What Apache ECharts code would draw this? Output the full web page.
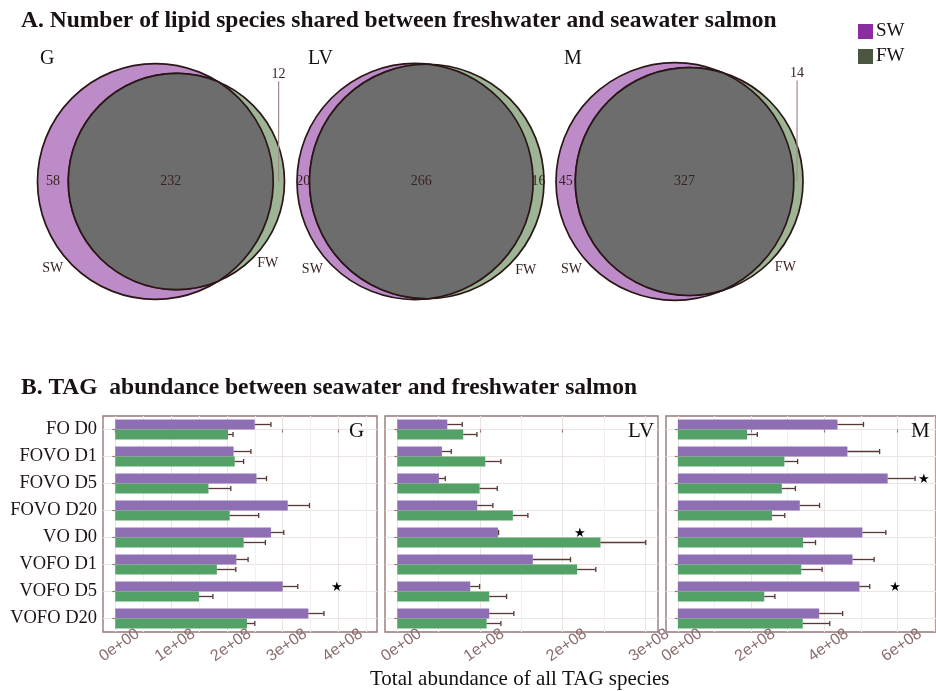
<!DOCTYPE html>
<html><head><meta charset="utf-8">
<script src="https://cdn.jsdelivr.net/npm/echarts@6/dist/echarts.min.js"></script>
<style>html,body{margin:0;padding:0;background:#fff}#c{width:936px;height:691px}</style>
</head><body><div id="c"></div>
<script>
// ---------- Venn data (panel A) ----------
const vennTissues = ['G', 'LV', 'M'];
const vennSwOnly = [58, 20, 45];
const vennShared = [232, 266, 327];
const vennFwOnly = [12, 16, 14];
const vennFwLeader = [true, false, true];

// ---------- TAG abundance data (panel B) ----------
const categories = ['FO D0', 'FOVO D1', 'FOVO D5', 'FOVO D20', 'VO D0', 'VOFO D1', 'VOFO D5', 'VOFO D20'];
const panelTissues = ['G', 'LV', 'M'];

const swMeanG  = [2.50e8, 2.12e8, 2.53e8, 3.09e8, 2.79e8, 2.17e8, 3.00e8, 3.46e8];
const swUpperG = [2.79e8, 2.43e8, 2.71e8, 3.48e8, 3.02e8, 2.38e8, 3.27e8, 3.74e8];
const fwMeanG  = [2.02e8, 2.14e8, 1.67e8, 2.05e8, 2.30e8, 1.82e8, 1.50e8, 2.36e8];
const fwUpperG = [2.11e8, 2.30e8, 2.07e8, 2.57e8, 2.69e8, 2.16e8, 1.75e8, 2.50e8];

const swMeanLV  = [0.605e8, 0.540e8, 0.504e8, 0.968e8, 1.218e8, 1.641e8, 0.883e8, 1.113e8];
const swUpperLV = [0.786e8, 0.653e8, 0.581e8, 1.157e8, 1.226e8, 2.097e8, 0.996e8, 1.411e8];
const fwMeanLV  = [0.798e8, 1.065e8, 0.996e8, 1.399e8, 2.460e8, 2.177e8, 1.113e8, 1.081e8];
const fwUpperLV = [0.964e8, 1.254e8, 1.210e8, 1.581e8, 3.008e8, 2.403e8, 1.323e8, 1.254e8];

const swMeanM  = [4.36e8, 4.63e8, 5.73e8, 3.33e8, 5.04e8, 4.77e8, 4.96e8, 3.86e8];
const swUpperM = [5.07e8, 5.51e8, 6.48e8, 3.87e8, 5.68e8, 5.36e8, 5.24e8, 4.50e8];
const fwMeanM  = [1.89e8, 2.91e8, 2.84e8, 2.57e8, 3.42e8, 3.37e8, 2.36e8, 3.41e8];
const fwUpperM = [2.17e8, 3.27e8, 3.21e8, 2.92e8, 3.76e8, 3.94e8, 2.65e8, 4.15e8];

const starsG  = [[3.97e8, 'VOFO D5']];
const starsLV = [[2.21e8, 'VO D0']];
const starsM  = [[6.72e8, 'FOVO D5'], [5.93e8, 'VOFO D5']];

const tickValuesG  = [0, 1e8, 2e8, 3e8, 4e8];
const tickLabelsG  = ['0e+00', '1e+08', '2e+08', '3e+08', '4e+08'];
const minorValuesG = [0.5e8, 1.5e8, 2.5e8, 3.5e8, 4.5e8];
const tickValuesLV  = [0, 1e8, 2e8, 3e8];
const tickLabelsLV  = ['0e+00', '1e+08', '2e+08', '3e+08'];
const minorValuesLV = [0.5e8, 1.5e8, 2.5e8];
const tickValuesM  = [0, 2e8, 4e8, 6e8];
const tickLabelsM  = ['0e+00', '2e+08', '4e+08', '6e+08'];
const minorValuesM = [1e8, 3e8, 5e8, 7e8];

const axisRangeG  = [-0.22e8, 4.69e8];
const axisRangeLV = [-0.149e8, 3.156e8];
const axisRangeM  = [-0.324e8, 7.05e8];

// ---------- styling / layout ----------
const SERIF = '"Liberation Serif","Times New Roman",serif';
const SANS = '"Liberation Sans",Arial,sans-serif';
const FRAME = '#967777';
const COL_SW_BAR = '#8e6fb3', COL_FW_BAR = '#53a167';
const COL_ERR = '#5a3838';

const panels = [
  {mean: [swMeanG, fwMeanG], upper: [swUpperG, fwUpperG], stars: starsG, ticks: tickValuesG, labels: tickLabelsG, minor: minorValuesG, range: axisRangeG, left: 103, width: 274},
  {mean: [swMeanLV, fwMeanLV], upper: [swUpperLV, fwUpperLV], stars: starsLV, ticks: tickValuesLV, labels: tickLabelsLV, minor: minorValuesLV, range: axisRangeLV, left: 385, width: 273},
  {mean: [swMeanM, fwMeanM], upper: [swUpperM, fwUpperM], stars: starsM, ticks: tickValuesM, labels: tickLabelsM, minor: minorValuesM, range: axisRangeM, left: 666, width: 273}
];
const panelTop = 416, panelHeight = 216;
const BAR_W = 10;

const grid = [], xAxis = [], yAxis = [], series = [];

panels.forEach((p, i) => {
  grid.push({left: p.left, top: panelTop, width: p.width, height: panelHeight, show: true,
    borderColor: FRAME, borderWidth: 1.4, backgroundColor: 'transparent'});
  // major x axis
  xAxis.push({type: 'value', gridIndex: i, min: p.range[0], max: p.range[1], position: 'bottom',
    axisLine: {show: false},
    axisTick: {show: true, length: 3, lineStyle: {color: FRAME, width: 1.2}, customValues: p.ticks},
    axisLabel: {show: true, rotate: 35, margin: 16, align: 'center', verticalAlign: 'middle',
      padding: [0, 0, 0, 10], color: '#8a6b6b', fontSize: 16, fontFamily: SANS,
      customValues: p.ticks,
      formatter: v => { const k = p.ticks.findIndex(t => Math.abs(t - v) < 1); return k >= 0 ? p.labels[k] : ''; }},
    splitLine: {show: true, lineStyle: {color: '#ece3e3', width: 1}}
  });
  // minor x axis (grid only)
  xAxis.push({type: 'value', gridIndex: i, min: p.range[0], max: p.range[1], position: 'top',
    axisLine: {show: false}, axisTick: {show: false, customValues: p.minor},
    axisLabel: {show: false, customValues: p.minor},
    splitLine: {show: true, lineStyle: {color: '#f5f0f0', width: 1}}
  });
  // category y axis
  yAxis.push({type: 'category', gridIndex: i, data: categories, inverse: true,
    axisLine: {show: false},
    axisTick: {show: true, alignWithLabel: true, length: 3, lineStyle: {color: FRAME, width: 1.2}},
    axisLabel: {show: i === 0, color: '#1f1414', fontSize: 18.5, fontFamily: SERIF, margin: 6},
    splitLine: {show: false}
  });
  // hidden value y axis for horizontal grid lines at category centres
  yAxis.push({type: 'value', gridIndex: i, min: -0.5, max: categories.length - 0.5, inverse: true, position: 'right',
    axisLine: {show: false}, axisTick: {show: false, customValues: categories.map((c, k) => k)},
    axisLabel: {show: false, customValues: categories.map((c, k) => k)},
    splitLine: {show: true, lineStyle: {color: '#ece3e3', width: 1}}
  });
  const xi = 2 * i, yi = 2 * i;
  ['SW', 'FW'].forEach((name, g) => {
    series.push({type: 'bar', name: name, xAxisIndex: xi, yAxisIndex: yi, data: p.mean[g],
      barWidth: BAR_W, barGap: '0%', itemStyle: {color: g === 0 ? COL_SW_BAR : COL_FW_BAR}, silent: true, z: 2});
  });
  ['SW', 'FW'].forEach((name, g) => {
    const off = (g === 0 ? -1 : 1) * BAR_W / 2;
    series.push({type: 'custom', name: name + ' err', xAxisIndex: xi, yAxisIndex: yi, z: 3, silent: true,
      data: categories.map((c, k) => [p.mean[g][k], k, p.upper[g][k]]),
      renderItem: (params, api) => {
        const p0 = api.coord([api.value(0), api.value(1)]);
        const p1 = api.coord([api.value(2), api.value(1)]);
        const y = p0[1] + off;
        const st = {stroke: COL_ERR, lineWidth: 1.3};
        return {type: 'group', children: [
          {type: 'line', shape: {x1: p0[0], y1: y, x2: p1[0], y2: y}, style: st},
          {type: 'line', shape: {x1: p1[0], y1: y - 2.6, x2: p1[0], y2: y + 2.6}, style: st}
        ]};
      }
    });
  });
  series.push({type: 'custom', name: 'stars', xAxisIndex: xi, yAxisIndex: yi, z: 4, silent: true,
    data: p.stars.map(s => [s[0], categories.indexOf(s[1])]),
    renderItem: (params, api) => {
      const c = api.coord([api.value(0), api.value(1)]);
      return {type: 'text', style: {text: '★', x: c[0], y: c[1] - 4, fill: '#000', font: '13px "DejaVu Sans",sans-serif',
        align: 'center', verticalAlign: 'middle', textAlign: 'center', textVerticalAlign: 'middle'}};
    }
  });
});

// ---------- Venn layout ----------
function lensArea(r1, r2, d) {
  if (d >= r1 + r2) return 0;
  if (d <= Math.abs(r1 - r2)) return Math.PI * Math.min(r1, r2) ** 2;
  const a1 = r1 * r1 * Math.acos((d * d + r1 * r1 - r2 * r2) / (2 * d * r1));
  const a2 = r2 * r2 * Math.acos((d * d + r2 * r2 - r1 * r1) / (2 * d * r2));
  const t = 0.5 * Math.sqrt((-d + r1 + r2) * (d + r1 - r2) * (d - r1 + r2) * (d + r1 + r2));
  return a1 + a2 - t;
}
function solveD(r1, r2, target) {
  let lo = Math.abs(r1 - r2), hi = r1 + r2;
  for (let k = 0; k < 80; k++) {
    const mid = (lo + hi) / 2;
    if (lensArea(r1, r2, mid) > target) lo = mid; else hi = mid;
  }
  return (lo + hi) / 2;
}
const vennCentersX = [161, 420.5, 679.5];
const vennCenterY = 181.5, vennSide = 247;
const COL_SW_V = '#bd8bc7', COL_FW_V = '#9db594', COL_SH_V = '#6d6d6d', COL_EDGE = '#2a1616';
const COL_VTXT = '#3a2222';

vennTissues.forEach((t, v) => {
  const r1 = Math.sqrt((vennSwOnly[v] + vennShared[v]) / Math.PI);
  const r2 = Math.sqrt((vennFwOnly[v] + vennShared[v]) / Math.PI);
  const d = solveD(r1, r2, vennShared[v]);
  const xmin = Math.min(-r1, d - r2), xmax = Math.max(r1, d + r2), ymax = Math.max(r1, r2);
  const S = Math.max(xmax - xmin, 2 * ymax), cx = (xmin + xmax) / 2;
  const gi = grid.length;
  grid.push({left: vennCentersX[v] - vennSide / 2, top: vennCenterY - vennSide / 2, width: vennSide, height: vennSide, show: false});
  const xi = xAxis.length, yi = yAxis.length;
  xAxis.push({type: 'value', gridIndex: gi, min: cx - S / 2, max: cx + S / 2, show: false});
  yAxis.push({type: 'value', gridIndex: gi, min: -S / 2, max: S / 2, show: false});
  series.push({type: 'custom', name: 'venn ' + t, xAxisIndex: xi, yAxisIndex: yi, silent: true,
    data: [[vennSwOnly[v], vennShared[v], vennFwOnly[v]]],
    renderItem: (params, api) => {
      const k = api.size([1, 0])[0];
      const c1 = api.coord([0, 0]), c2 = api.coord([d, 0]);
      const R1 = r1 * k, R2 = r2 * k;
      const a = (d * d + r1 * r1 - r2 * r2) / (2 * d);
      const h = Math.sqrt(Math.max(0, r1 * r1 - a * a));
      const pt = api.coord([a, h]), pb = api.coord([a, -h]);
      const large2 = (a - d) > 0 ? 1 : 0;
      const large1 = a > 0 ? 0 : 1;
      const lens = `M ${pt[0]} ${pt[1]} A ${R2} ${R2} 0 ${large2} 0 ${pb[0]} ${pb[1]} A ${R1} ${R1} 0 ${large1} 0 ${pt[0]} ${pt[1]} Z`;
      const font = '14px ' + SERIF;
      const txt = (text, p) => ({type: 'text', style: {text: text, x: p[0], y: p[1], fill: COL_VTXT, font: font,
        align: 'center', verticalAlign: 'middle', textAlign: 'center', textVerticalAlign: 'middle'}});
      const children = [
        {type: 'circle', shape: {cx: c1[0], cy: c1[1], r: R1}, style: {fill: COL_SW_V, stroke: COL_EDGE, lineWidth: 1.7}},
        {type: 'circle', shape: {cx: c2[0], cy: c2[1], r: R2}, style: {fill: COL_FW_V, stroke: COL_EDGE, lineWidth: 1.7}},
        {type: 'path', shape: {pathData: lens}, style: {fill: COL_SH_V, stroke: COL_EDGE, lineWidth: 1.7}},
        txt(String(api.value(0)), api.coord([(-r1 + (d - r2)) / 2, 0])),
        txt(String(api.value(1)), api.coord([((d - r2) + r1) / 2, 0])),
        txt('SW', api.coord([-0.87 * r1, -0.74 * r1])),
        txt('FW', api.coord([d + 0.845 * r2, -0.755 * r2]))
      ];
      if (vennFwLeader[v]) {
        const lx = d + r2 - 0.05 * r1;
        const top = api.coord([lx, 0.85 * r1]), bot = api.coord([lx, 0]);
        children.push({type: 'line', shape: {x1: top[0], y1: top[1], x2: bot[0], y2: bot[1]}, style: {stroke: '#a08a8a', lineWidth: 1.2}});
        children.push(txt(String(api.value(2)), api.coord([lx, 0.91 * r1])));
      } else {
        children.push(txt(String(api.value(2)), api.coord([(r1 + d + r2) / 2, 0])));
      }
      return {type: 'group', children: children};
    }
  });
});

const titleStyle = {fontFamily: SERIF, fontWeight: 'bold', fontSize: 23.5, color: '#1a1212'};
const title = [
  {text: 'A. Number of lipid species shared between freshwater and seawater salmon', left: 21, top: 9, padding: 0, textStyle: titleStyle},
  {text: 'B. TAG  abundance between seawater and freshwater salmon', left: 21, top: 376, padding: 0, textStyle: titleStyle},
  {text: 'G', left: 40, top: 49, padding: 0, textStyle: {fontFamily: SERIF, fontSize: 20, fontWeight: 'normal', color: '#111'}},
  {text: 'LV', left: 308, top: 49, padding: 0, textStyle: {fontFamily: SERIF, fontSize: 20, fontWeight: 'normal', color: '#111'}},
  {text: 'M', left: 564, top: 49, padding: 0, textStyle: {fontFamily: SERIF, fontSize: 20, fontWeight: 'normal', color: '#111'}},
  {text: 'G', left: 349, top: 421, padding: 0, textStyle: {fontFamily: SERIF, fontSize: 21, fontWeight: 'normal', color: '#111'}},
  {text: 'LV', left: 628, top: 421, padding: 0, textStyle: {fontFamily: SERIF, fontSize: 21, fontWeight: 'normal', color: '#111'}},
  {text: 'M', left: 911, top: 421, padding: 0, textStyle: {fontFamily: SERIF, fontSize: 21, fontWeight: 'normal', color: '#111'}},
  {text: 'Total abundance of all TAG species', left: 370, top: 669, padding: 0, textStyle: {fontFamily: SERIF, fontSize: 21, fontWeight: 'normal', color: '#111'}}
];

const chart = echarts.init(document.getElementById('c'), null, {renderer: 'canvas'});
chart.setOption({
  animation: false,
  backgroundColor: '#ffffff',
  title: title,
  legend: {orient: 'vertical', left: 858, top: 22, itemWidth: 15, itemHeight: 15, itemGap: 6, icon: 'rect',
    padding: 0, selectedMode: false,
    textStyle: {fontFamily: SERIF, fontSize: 19, color: '#1a1212', padding: [0, 0, 0, -2]},
    data: [{name: 'SW', itemStyle: {color: '#8b2d9f'}}, {name: 'FW', itemStyle: {color: '#4b5641'}}]},
  grid: grid, xAxis: xAxis, yAxis: yAxis, series: series
});
</script></body></html>
